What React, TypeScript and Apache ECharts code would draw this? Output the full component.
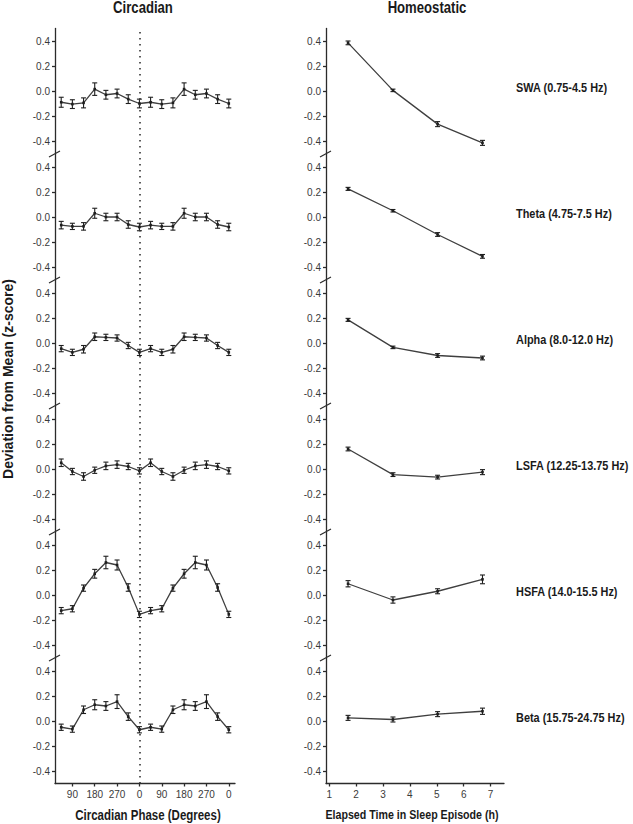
import React, { useEffect, useRef } from "react";
import * as echarts from "echarts";

// ---------- data ----------
const bandNames = [
  "SWA (0.75-4.5 Hz)",
  "Theta (4.75-7.5 Hz)",
  "Alpha (8.0-12.0 Hz)",
  "LSFA (12.25-13.75 Hz)",
  "HSFA (14.0-15.5 Hz)",
  "Beta (15.75-24.75 Hz)",
];

// circadian phase (double plotted, degrees of two cycles)
const circPhase = [45, 90, 135, 180, 225, 270, 315, 360, 405, 450, 495, 540, 585, 630, 675, 720];
const circTicks = [90, 180, 270, 360, 450, 540, 630, 720];

// one cycle of circadian values (45..360 deg), double plotted
const swaCirc = [-0.09, -0.105, -0.095, 0.015, -0.03, -0.02, -0.065, -0.1];
const swaCircErr = [0.04, 0.035, 0.04, 0.05, 0.035, 0.035, 0.035, 0.035];
const thetaCirc = [-0.065, -0.075, -0.075, 0.03, 0.0, 0.0, -0.06, -0.08];
const thetaCircErr = [0.03, 0.025, 0.03, 0.04, 0.03, 0.03, 0.03, 0.03];
const alphaCirc = [-0.045, -0.075, -0.05, 0.05, 0.045, 0.04, -0.02, -0.075];
const alphaCircErr = [0.025, 0.025, 0.03, 0.03, 0.025, 0.025, 0.025, 0.025];
const lsfaCirc = [0.05, -0.02, -0.06, -0.01, 0.025, 0.035, 0.02, -0.015];
const lsfaCircErr = [0.03, 0.025, 0.03, 0.025, 0.03, 0.03, 0.025, 0.025];
const hsfaCirc = [-0.125, -0.11, 0.055, 0.17, 0.26, 0.24, 0.06, -0.155];
const hsfaCircErr = [0.025, 0.025, 0.025, 0.035, 0.05, 0.04, 0.03, 0.025];
const betaCirc = [-0.05, -0.065, 0.09, 0.13, 0.12, 0.155, 0.035, -0.07];
const betaCircErr = [0.025, 0.025, 0.03, 0.04, 0.035, 0.055, 0.03, 0.025];

// homeostatic: elapsed time (h)
const hours = [1.7, 3.37, 5.03, 6.7];
const hourTicks = [1, 2, 3, 4, 5, 6, 7];
const swaHomeo = [0.385, 0.005, -0.265, -0.415];
const swaHomeoErr = [0.015, 0.01, 0.02, 0.02];
const thetaHomeo = [0.225, 0.05, -0.14, -0.315];
const thetaHomeoErr = [0.012, 0.01, 0.015, 0.015];
const alphaHomeo = [0.185, -0.035, -0.1, -0.12];
const alphaHomeoErr = [0.012, 0.01, 0.015, 0.015];
const lsfaHomeo = [0.16, -0.045, -0.065, -0.025];
const lsfaHomeoErr = [0.015, 0.015, 0.015, 0.02];
const hsfaHomeo = [0.09, -0.04, 0.03, 0.125];
const hsfaHomeoErr = [0.025, 0.025, 0.02, 0.035];
const betaHomeo = [0.025, 0.012, 0.055, 0.078];
const betaHomeoErr = [0.02, 0.02, 0.02, 0.025];

const yTicks = [-0.4, -0.2, 0, 0.2, 0.4];

const circVals = [swaCirc, thetaCirc, alphaCirc, lsfaCirc, hsfaCirc, betaCirc];
const circErrs = [swaCircErr, thetaCircErr, alphaCircErr, lsfaCircErr, hsfaCircErr, betaCircErr];
const homeoVals = [swaHomeo, thetaHomeo, alphaHomeo, lsfaHomeo, hsfaHomeo, betaHomeo];
const homeoErrs = [swaHomeoErr, thetaHomeoErr, alphaHomeoErr, lsfaHomeoErr, hsfaHomeoErr, betaHomeoErr];

// ---------- layout ----------
const PANEL_TOP = 28.5;
const PANEL_H = 125;
const PANEL_STEP = 126;
const LEFT_X = 55;
const LEFT_W = 180;
const RIGHT_X = 326;
const RIGHT_W = 178;
const SANS = '"Liberation Sans", Arial, sans-serif';
const CONDENSE = 0.82;
const INK = "#2b2b2b";

function errRender(params: any, api: any) {
  const x = api.value(0);
  const y = api.value(1);
  const e = api.value(2);
  const top = api.coord([x, y + e]);
  const bot = api.coord([x, y - e]);
  const mid = api.coord([x, y]);
  const c = 2.5;
  const st = { stroke: "#1e1e1e", lineWidth: 1.1 };
  return {
    type: "group",
    children: [
      { type: "line", shape: { x1: top[0], y1: top[1], x2: bot[0], y2: bot[1] }, style: st },
      { type: "line", shape: { x1: top[0] - c, y1: top[1], x2: top[0] + c, y2: top[1] }, style: st },
      { type: "line", shape: { x1: bot[0] - c, y1: bot[1], x2: bot[0] + c, y2: bot[1] }, style: st },
      { type: "rect", shape: { x: mid[0] - 1.3, y: mid[1] - 1.3, width: 2.6, height: 2.6 }, style: { fill: "#1e1e1e" } },
    ],
  };
}

function condensedText(text: string, x: number, y: number, size: number, align: string, rotation = 0, scale = CONDENSE) {
  return {
    type: "text",
    x,
    y,
    rotation,
    scaleX: scale,
    style: {
      text,
      font: `bold ${size}px ${SANS}`,
      fill: "#1a1a1a",
      textAlign: align,
      textVerticalAlign: "middle",
    },
  };
}

function buildOption() {
  const grid: any[] = [];
  const xAxis: any[] = [];
  const yAxis: any[] = [];
  const series: any[] = [];
  const graphic: any[] = [];

  const axisLineStyle = { color: INK, width: 1.3 };
  const labelStyle = { fontSize: 10, color: "#3a3a3a", fontFamily: SANS };

  for (let i = 0; i < 6; i++) {
    const top = PANEL_TOP + i * PANEL_STEP;
    const isBottom = i === 5;
    for (let col = 0; col < 2; col++) {
      const g = i * 2 + col;
      const left = col === 0 ? LEFT_X : RIGHT_X;
      const width = col === 0 ? LEFT_W : RIGHT_W;
      grid.push({ left, top, width, height: PANEL_H });
      xAxis.push({
        gridIndex: g,
        type: "value",
        min: col === 0 ? 20 : 0.88,
        max: col === 0 ? 745 : 7.5,
        show: isBottom,
        axisLine: { show: true, onZero: false, lineStyle: axisLineStyle },
        axisTick: {
          show: true,
          length: 3,
          customValues: col === 0 ? circTicks : hourTicks,
          lineStyle: axisLineStyle,
        },
        axisLabel: {
          ...labelStyle,
          margin: 6,
          customValues: col === 0 ? circTicks : hourTicks,
          formatter: col === 0 ? (v: number) => String(Math.round(v) % 360) : (v: number) => String(v),
        },
        splitLine: { show: false },
      });
      yAxis.push({
        gridIndex: g,
        type: "value",
        min: -0.5,
        max: 0.5,
        axisLine: { show: true, onZero: false, lineStyle: axisLineStyle },
        axisTick: { show: true, length: 3, customValues: yTicks, lineStyle: axisLineStyle },
        axisLabel: {
          ...labelStyle,
          margin: 5,
          customValues: yTicks,
          formatter: (v: number) => (Math.abs(v) < 1e-9 ? "0.0" : v.toFixed(1)),
        },
        splitLine: { show: false },
      });

      const xs = col === 0 ? circPhase : hours;
      const vals = col === 0 ? circVals[i].concat(circVals[i]) : homeoVals[i];
      const errs = col === 0 ? circErrs[i].concat(circErrs[i]) : homeoErrs[i];

      const line: any = {
        type: "line",
        xAxisIndex: g,
        yAxisIndex: g,
        data: xs.map((x, j) => [x, vals[j]]),
        symbol: "none",
        silent: true,
        lineStyle: { color: "#3f3f3f", width: 1.3 },
        z: 2,
      };
      if (col === 0) {
        line.markLine = {
          silent: true,
          symbol: ["none", "none"],
          label: { show: false },
          lineStyle: { type: [1.6, 4.4], color: "#333", width: 1.6 },
          data: [{ xAxis: 360 }],
        };
      }
      series.push(line);
      series.push({
        type: "custom",
        xAxisIndex: g,
        yAxisIndex: g,
        data: xs.map((x, j) => [x, vals[j], errs[j]]),
        encode: { x: 0, y: 1 },
        renderItem: errRender,
        silent: true,
        z: 3,
      });
    }

    // band label on the right
    graphic.push(condensedText(bandNames[i], 516, top + PANEL_H / 2 - 3, 13, "left", 0, 0.84));

    // axis break marks between panels
    if (i > 0) {
      const b = top - 0.5;
      for (const ax of [LEFT_X, RIGHT_X]) {
        graphic.push({
          type: "line",
          shape: { x1: ax - 6, y1: b + 3, x2: ax + 5, y2: b - 3 },
          style: { stroke: INK, lineWidth: 1.2 },
        });
      }
    }
  }

  // titles
  graphic.push(condensedText("Circadian", 143, 8, 16, "center"));
  graphic.push(condensedText("Homeostatic", 427, 8, 16, "center"));
  graphic.push(condensedText("Circadian Phase (Degrees)", 148, 815, 14, "center"));
  graphic.push(condensedText("Elapsed Time in Sleep Episode (h)", 412, 815, 13, "center"));
  graphic.push(condensedText("Deviation from Mean (z-score)", 8, 379, 14, "center", Math.PI / 2, 1));

  return {
    animation: false,
    backgroundColor: "#ffffff",
    grid,
    xAxis,
    yAxis,
    series,
    graphic,
  };
}

export default function App() {
  const ref = useRef<HTMLDivElement>(null);
  useEffect(() => {
    document.body.style.margin = "0";
    if (!ref.current) return;
    const chart = echarts.init(ref.current, undefined, { renderer: "svg" });
    chart.setOption(buildOption() as any);
    return () => chart.dispose();
  }, []);
  return <div ref={ref} style={{ width: 633, height: 824 }} />;
}
